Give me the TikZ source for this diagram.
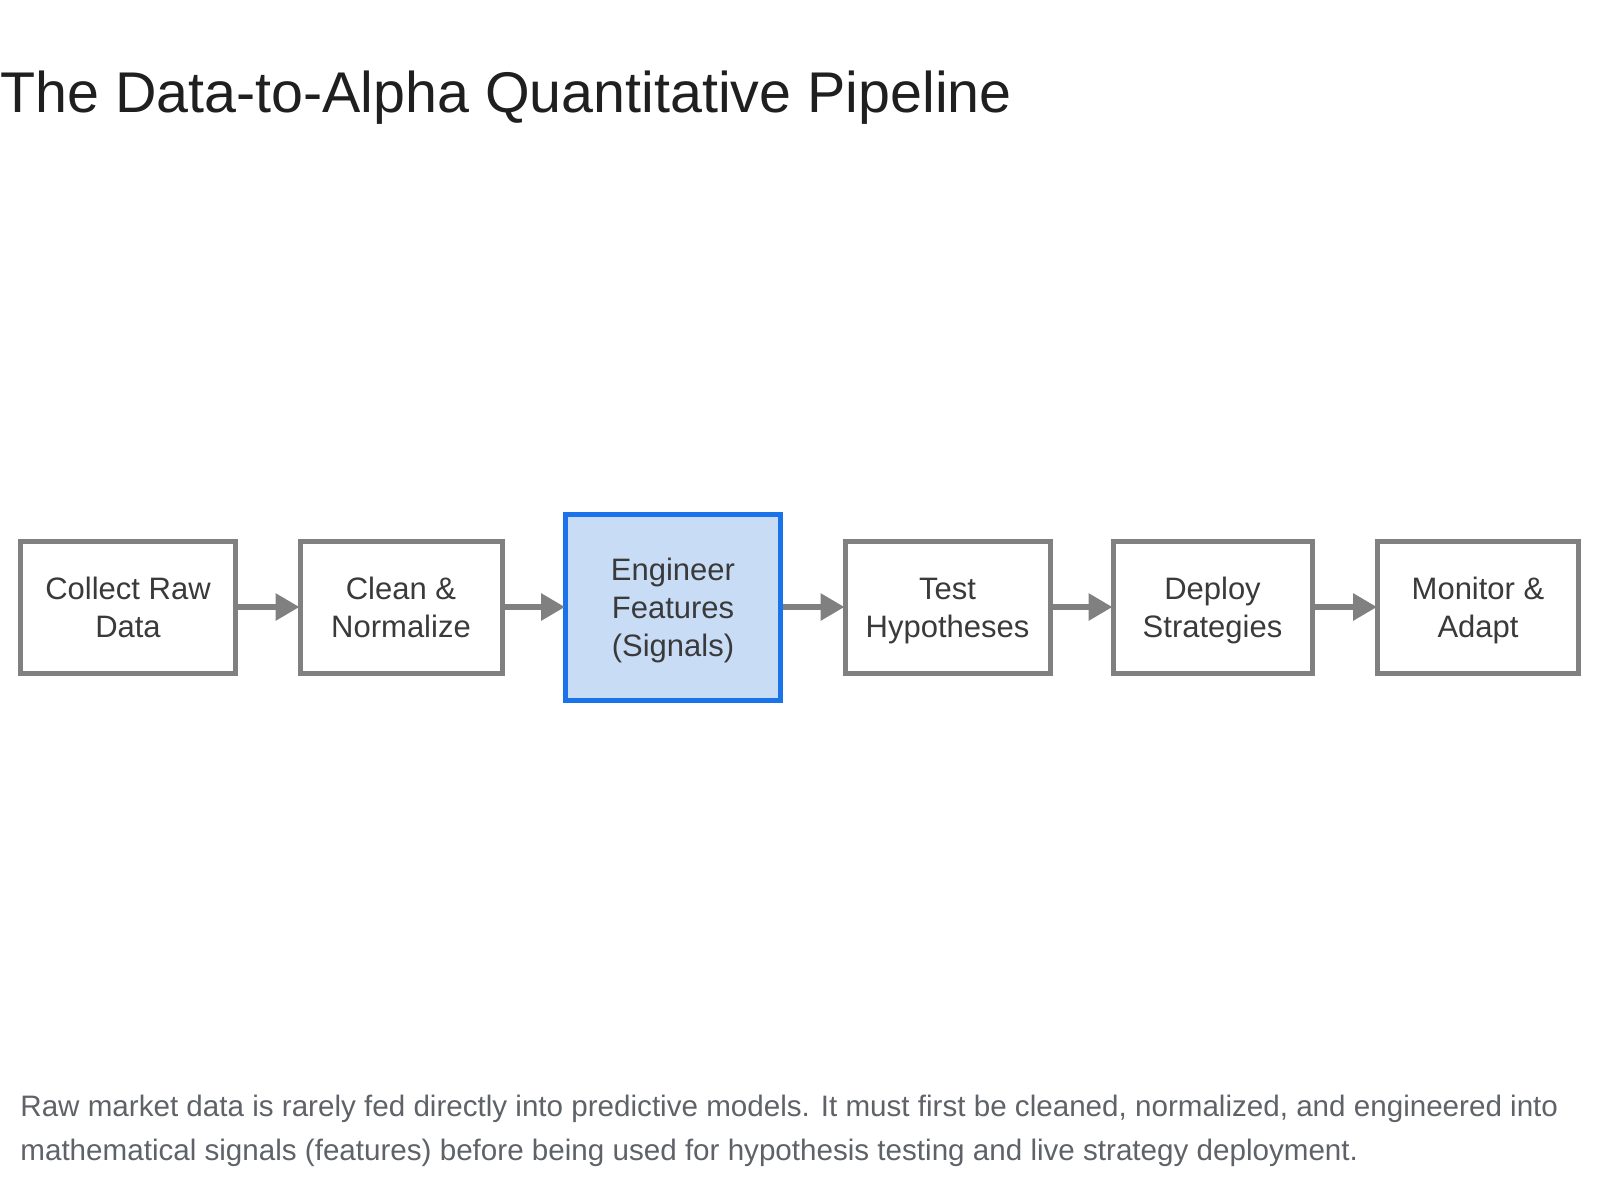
\documentclass[tikz,border=0pt]{standalone}
\usepackage{fontspec}
\setmainfont{Liberation Sans}
\usetikzlibrary{arrows.meta}
\definecolor{boxgray}{HTML}{808080}
\definecolor{txtdark}{HTML}{3A3A3A}
\definecolor{titlecol}{HTML}{1F1F1F}
\definecolor{capcol}{HTML}{5F6368}
\definecolor{hlfill}{HTML}{C8DCF6}
\definecolor{hlborder}{HTML}{1A73E8}
\newcommand{\bxstrut}{\rule[-3.6pt]{0pt}{19pt}}
\tikzset{
  stepbox/.style={draw=boxgray, line width=2.5pt, fill=white, minimum height=66pt,
    align=center, text=txtdark, inner sep=0pt,
    font=\fontsize{15.5pt}{19pt}\selectfont},
  hlbox/.style={stepbox, draw=hlborder, fill=hlfill, minimum height=93pt},
  flow/.style={draw=boxgray, line width=3pt,
    -{Triangle[length=12pt,width=13pt]}, shorten >=-1pt},
}
\begin{document}
\begin{tikzpicture}[x=0.5pt,y=-0.5pt]
\useasboundingbox[fill=white] (0,0) rectangle (1600,1200);
\node[anchor=base west, inner sep=0pt, text=titlecol, font=\fontsize{28.7pt}{34pt}\selectfont] (title) at (0,112) {The Data-to-Alpha Quantitative Pipeline};

\node[stepbox, minimum width=107.5pt] (s1) at (128,607) {\bxstrut Collect Raw\\\bxstrut Data};
\node[stepbox, minimum width=101pt] (s2) at (401,607) {\bxstrut Clean \&\\\bxstrut Normalize};
\node[hlbox, minimum width=107.5pt] (s3) at (673,607) {\bxstrut Engineer\\\bxstrut Features\\\bxstrut (Signals)};
\node[stepbox, minimum width=102.5pt] (s4) at (947.5,607) {\bxstrut Test\\\bxstrut Hypotheses};
\node[stepbox, minimum width=99.5pt] (s5) at (1212.5,607) {\bxstrut Deploy\\\bxstrut Strategies};
\node[stepbox, minimum width=100.5pt] (s6) at (1478,607) {\bxstrut Monitor \&\\\bxstrut Adapt};

\draw[flow] (s1.east) -- (s2.west);
\draw[flow] (s2.east) -- (s3.west);
\draw[flow] (s3.east) -- (s4.west);
\draw[flow] (s4.east) -- (s5.west);
\draw[flow] (s5.east) -- (s6.west);

\node[anchor=base west, inner sep=0pt, align=left, text=capcol, font=\fontsize{14.8pt}{22pt}\selectfont] (cap) at (20,1160) {Raw market data is rarely fed directly into predictive models. It must first be cleaned, normalized, and engineered into\\mathematical signals (features) before being used for hypothesis testing and live strategy deployment.};
\end{tikzpicture}
\end{document}
